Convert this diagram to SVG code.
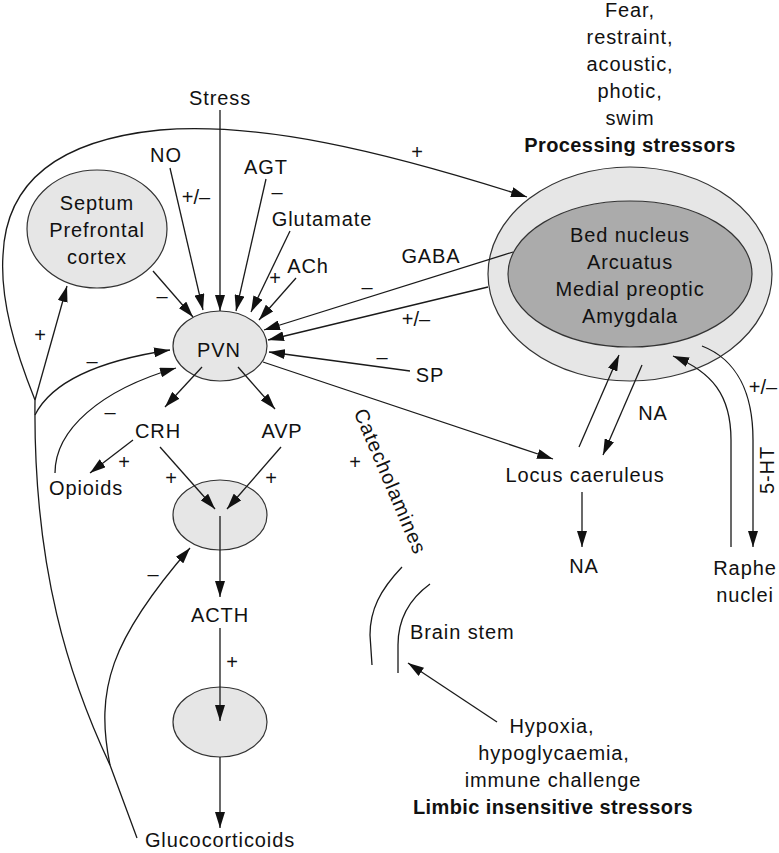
<svg xmlns="http://www.w3.org/2000/svg" width="779" height="853" viewBox="0 0 779 853">
<defs>
<marker id="arr" markerUnits="userSpaceOnUse" markerWidth="16" markerHeight="10" refX="16" refY="5" orient="auto">
<path d="M0,0 L16,5 L0,10 z" fill="#111"/>
</marker>
<style>
text{font-family:"Liberation Sans",Arial,sans-serif;font-size:20px;fill:#111;letter-spacing:0.9px}
.c{text-anchor:middle}
.b{font-weight:bold;letter-spacing:0.4px}
.s{letter-spacing:0}
.ln{fill:none;stroke:#1a1a1a;stroke-width:1.3}
.a{marker-end:url(#arr)}
.node{stroke:#333;stroke-width:1.2}
.light{fill:#e6e6e6}
.dark{fill:#ababab}
</style>
</defs>
<rect width="779" height="853" fill="#fff"/>

<g id="septum">
<ellipse class="node light" cx="97" cy="229" rx="70" ry="59"/>
<text class="c" x="97" y="210">Septum</text>
<text class="c" x="97" y="237">Prefrontal</text>
<text class="c" x="97" y="264">cortex</text>
</g>

<g id="pvn">
<ellipse class="node light" cx="220" cy="346" rx="47" ry="35"/>
<text class="c" x="219" y="357">PVN</text>
</g>

<g id="limbic">
<ellipse class="node light" cx="630" cy="274" rx="142" ry="107"/>
<ellipse class="node dark" cx="630" cy="274" rx="122" ry="73"/>
<text class="c" x="630" y="242">Bed nucleus</text>
<text class="c" x="630" y="269">Arcuatus</text>
<text class="c" x="630" y="296">Medial preoptic</text>
<text class="c" x="630" y="323">Amygdala</text>
</g>

<g id="pituitary"><ellipse class="node light" cx="220" cy="515" rx="47" ry="35"/></g>
<g id="adrenal"><ellipse class="node light" cx="220" cy="722" rx="47" ry="35"/></g>

<g id="connectors">
<path class="ln a" d="M220,110 L220,311"/>
<path class="ln a" d="M170,168 L203,310"/>
<path class="ln a" d="M266,179 L236,311"/>
<path class="ln a" d="M290,231 L251,312"/>
<path class="ln a" d="M296,278 L259,320"/>
<path class="ln a" d="M153,271 L193,317"/>
<path class="ln a" d="M513,252 L264,330"/>
<path class="ln a" d="M488,287 L268,340"/>
<path class="ln a" d="M410,371 L269,352"/>
<path class="ln a" d="M263,362 L553,459"/>
<path class="ln a" d="M35,400 C15,350 0,300 3,255 C6,180 60,140 160,130 C260,122 380,150 527,197"/>
<path class="ln a" d="M35,400 L67,286"/>
<path class="ln a" d="M35,415 C50,385 90,362 170,350"/>
<path class="ln a" d="M55,473 C55,430 100,390 176,368"/>
<path class="ln" d="M137,838 L110,765 C70,680 33,570 35,400"/>
<path class="ln a" d="M110,765 C95,690 110,640 190,548"/>
<path class="ln a" d="M202,367 L165,407"/>
<path class="ln a" d="M238,367 L275,409"/>
<path class="ln a" d="M133,440 L90,473"/>
<path class="ln a" d="M160,447 L215,509"/>
<path class="ln a" d="M281,447 L227,509"/>
<path class="ln a" d="M220,516 L220,597"/>
<path class="ln a" d="M220,628 L220,721"/>
<path class="ln a" d="M220,757 L220,828"/>
<path class="ln a" d="M579,447 L619,355"/>
<path class="ln a" d="M642,365 L603,455"/>
<path class="ln a" d="M582,492 L582,547"/>
<path class="ln a" d="M731,547 L731,440 C731,395 712,372 673,356"/>
<path class="ln a" d="M702,346 C738,360 753,395 753,440 L753,547"/>
<path class="ln" d="M402,567 C380,590 370,610 370,635 L372,665"/>
<path class="ln" d="M430,584 C408,600 398,620 398,645 L398,673"/>
<path class="ln a" d="M497,722 L408,663"/>
</g>

<g id="labels">
<text class="c s" x="196" y="204">+/–</text>
<text class="c s" x="277" y="199">–</text>
<text class="c s" x="275" y="285">+</text>
<text class="c s" x="162" y="303">–</text>
<text class="c s" x="367" y="294">–</text>
<text class="c s" x="417" y="159">+</text>
<text class="c s" x="416" y="326">+/–</text>
<text class="c s" x="382" y="364">–</text>
<text class="c s" x="40" y="342">+</text>
<text class="c s" x="92" y="368">–</text>
<text class="c s" x="110" y="419">–</text>
<text class="c s" x="124" y="469">+</text>
<text class="c s" x="171" y="485">+</text>
<text class="c s" x="271" y="485">+</text>
<text class="c s" x="153" y="581">–</text>
<text class="c s" x="232" y="669">+</text>
<text class="c s" x="355" y="469">+</text>
<text class="c s" x="763" y="394">+/–</text>
</g>

<g id="stress"><text class="c" x="220" y="105">Stress</text></g>
<g id="no"><text class="c" x="166" y="162">NO</text></g>
<g id="agt"><text class="c" x="266" y="174">AGT</text></g>
<g id="glutamate"><text class="c" x="322" y="226">Glutamate</text></g>
<g id="ach"><text class="c" x="308" y="273">ACh</text></g>
<g id="gaba"><text class="c" x="431" y="263">GABA</text></g>
<g id="sp"><text class="c" x="430" y="382">SP</text></g>

<g id="processing">
<text class="c" x="630" y="17">Fear,</text>
<text class="c" x="630" y="44">restraint,</text>
<text class="c" x="630" y="71">acoustic,</text>
<text class="c" x="630" y="98">photic,</text>
<text class="c" x="630" y="125">swim</text>
<text class="c b" x="630" y="152">Processing stressors</text>
</g>

<g id="crh"><text class="c" x="158" y="438">CRH</text></g>
<g id="avp"><text class="c" x="282" y="438">AVP</text></g>
<g id="opioids"><text class="c" x="86" y="495">Opioids</text></g>
<g id="acth"><text class="c" x="220" y="622">ACTH</text></g>
<g id="glucocorticoids"><text class="c" x="220" y="847">Glucocorticoids</text></g>

<g id="catecholamines"><text class="c" transform="translate(384,484) rotate(67)">Catecholamines</text></g>

<g id="locus"><text class="c" x="585" y="482">Locus caeruleus</text></g>
<g id="na-up"><text class="c" x="653" y="420">NA</text></g>
<g id="na-down"><text class="c" x="584" y="573">NA</text></g>
<g id="raphe">
<text class="c" x="745" y="575">Raphe</text>
<text class="c" x="745" y="602">nuclei</text>
</g>
<g id="ht"><text class="c" transform="translate(774,470) rotate(-90)">5-HT</text></g>

<g id="brainstem"><text x="410" y="639">Brain stem</text></g>

<g id="insensitive">
<text class="c" x="552" y="733">Hypoxia,</text>
<text class="c" x="554" y="760">hypoglycaemia,</text>
<text class="c" x="553" y="787">immune challenge</text>
<text class="c b" x="553" y="814">Limbic insensitive stressors</text>
</g>
</svg>
